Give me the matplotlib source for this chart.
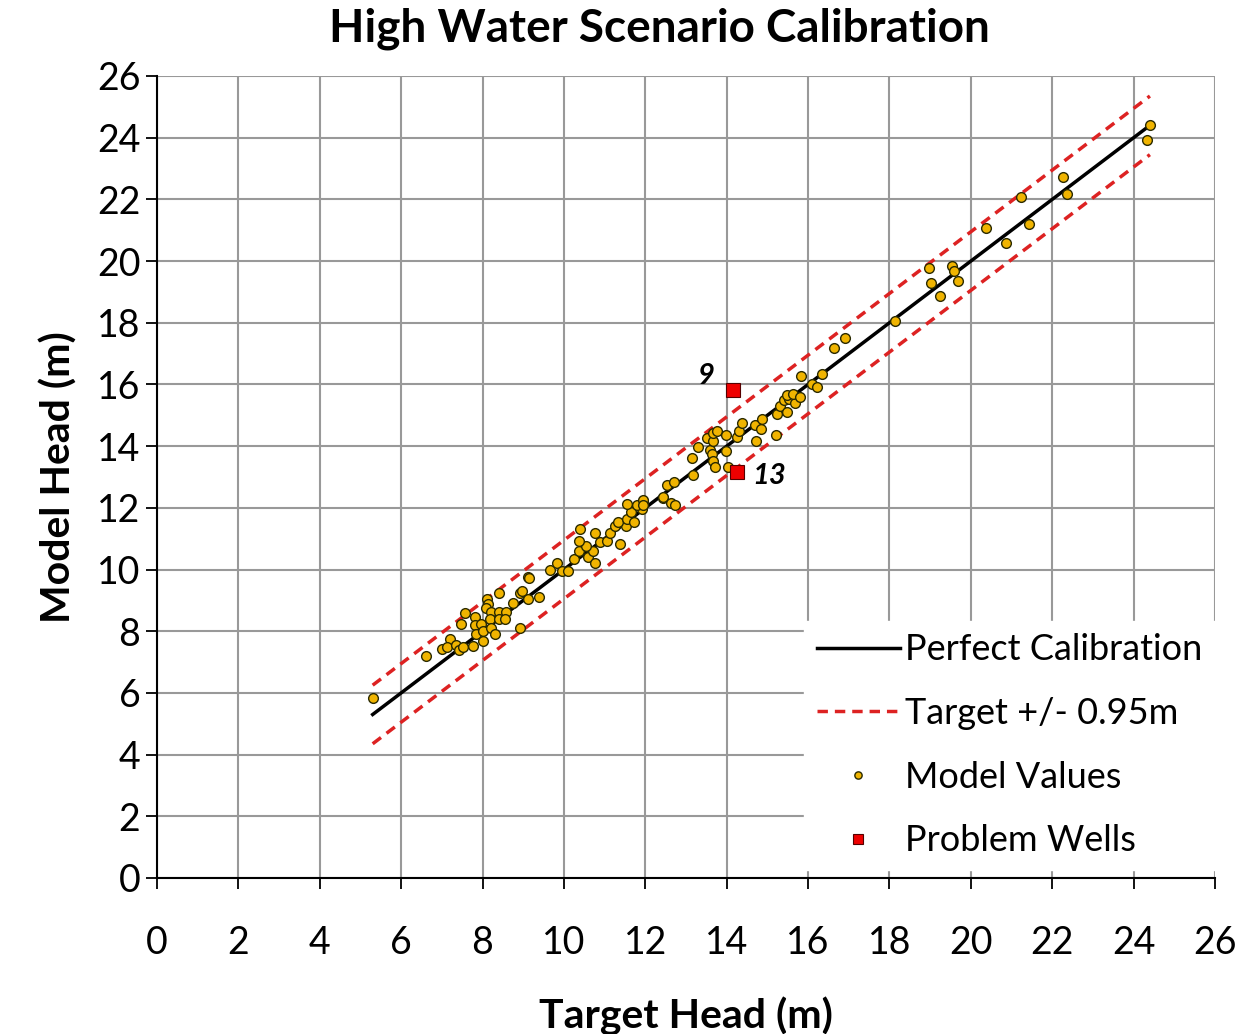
import numpy as np
import matplotlib.pyplot as plt

plt.rcParams['font.family'] = ['Lato', 'DejaVu Sans']

# model values (target head, model head)
target = [5.30, 6.61, 7.00, 7.20, 7.13, 7.35, 7.43, 7.53, 7.76, 7.57, 7.46, 7.81, 7.81, 7.95,
          7.84, 8.00, 8.00, 8.10, 8.14, 8.08, 8.20, 8.41, 8.58, 8.18, 8.41, 8.55, 8.20, 8.31,
          8.92, 8.41, 8.76, 8.92, 9.12, 9.39, 9.12, 8.96, 9.15, 9.65, 9.84, 9.95, 10.11,
          10.25, 10.60, 10.76, 10.36, 10.71, 10.54, 10.36, 10.89, 11.07, 11.38, 10.76, 10.40,
          11.13, 11.26, 11.53, 11.34, 11.54, 11.71, 11.66, 11.91, 11.54, 11.95, 11.80, 12.43,
          11.95, 11.95, 12.43, 12.63, 12.73, 12.53, 12.71, 13.18, 13.14, 13.30, 13.59,
          13.63, 13.67, 13.71, 14.02, 13.98, 13.51, 13.67, 13.66, 13.77, 13.98, 14.25, 14.29,
          14.38, 14.73, 14.70, 14.84, 14.86, 15.21, 15.24, 15.31, 15.47, 15.41, 15.54, 15.68,
          15.47, 15.62, 15.79, 15.83, 16.09, 16.21, 16.33, 16.64, 16.91, 18.13, 18.96, 19.01,
          19.23, 19.53, 19.59, 19.69, 20.36, 20.87, 21.23, 21.44, 22.26, 22.37, 24.32, 24.41]
model = [5.85, 7.20, 7.41, 7.76, 7.50, 7.55, 7.39, 7.48, 7.53, 8.58, 8.22, 8.45, 8.20, 8.23,
         7.91, 8.01, 7.69, 9.06, 8.88, 8.74, 8.63, 8.63, 8.63, 8.38, 8.38, 8.38, 8.09, 7.91,
         8.09, 9.25, 8.91, 9.25, 9.03, 9.12, 9.77, 9.31, 9.71, 10.00, 10.22, 9.96, 9.96,
         10.33, 10.39, 10.22, 10.61, 10.60, 10.76, 10.93, 10.90, 10.92, 10.83, 11.20, 11.30,
         11.17, 11.41, 11.41, 11.55, 11.63, 11.55, 11.87, 11.95, 12.12, 12.23, 12.09, 12.31,
         12.25, 12.10, 12.36, 12.16, 12.09, 12.74, 12.85, 13.06, 13.60, 13.96, 13.89,
         13.74, 13.53, 13.33, 13.33, 13.85, 14.28, 14.17, 14.43, 14.50, 14.36, 14.31, 14.49,
         14.74, 14.17, 14.69, 14.54, 14.87, 14.36, 15.04, 15.30, 15.11, 15.50, 15.52, 15.39,
         15.66, 15.68, 15.60, 16.28, 16.01, 15.93, 16.34, 17.19, 17.52, 18.06, 19.78, 19.30,
         18.87, 19.85, 19.69, 19.36, 21.08, 20.60, 22.09, 21.20, 22.71, 22.16, 23.93, 24.41]

# problem wells
prob_x = [14.15, 14.25]
prob_y = [15.82, 13.17]
prob_lbl = ['9', '13']

line_x = [5.3, 24.4]
tol = 0.95
ticks = list(range(0, 27, 2))

fig = plt.figure(figsize=(12.53, 10.34), dpi=100)
ax = fig.add_axes([0.1253, 0.1509, 0.8444, 0.7756])

ax.grid(True, color='#999999', lw=1.5)
ax.set_axisbelow(True)

ax.plot(line_x, line_x, color='black', lw=2.5, label='Perfect Calibration', zorder=3)
ax.plot(line_x, [v + tol for v in line_x], color='#dd2222', lw=2.5, ls=(0, (3, 2)),
        label='Target +/- 0.95m', zorder=3)
ax.plot(line_x, [v - tol for v in line_x], color='#dd2222', lw=2.5, ls=(0, (3, 2)), zorder=3)
ax.plot(target, model, 'o', ms=7, mfc='#f0b400', mec='#2a2a00', mew=1.0,
        label='Model Values', zorder=4)
ax.plot(prob_x, prob_y, 's', ms=10, mfc='#ee0000', mec='#550000', mew=0.8,
        label='Problem Wells', zorder=5)

ax.text(prob_x[0] - 0.65, prob_y[0] + 0.45, prob_lbl[0], fontsize=21, fontweight='bold',
        style='italic', ha='center', va='center')
ax.text(prob_x[1] + 0.8, prob_y[1] - 0.15, prob_lbl[1], fontsize=21, fontweight='bold',
        style='italic', ha='center', va='center')

ax.set_xlim(0, 26)
ax.set_ylim(0, 26)
ax.set_xticks(ticks)
ax.set_yticks(ticks)
ax.tick_params(labelsize=27, length=8, width=1.3, pad=4)
ax.tick_params(axis='x', pad=26)
for s in ['top', 'right']:
    ax.spines[s].set_visible(False)
for s in ['left', 'bottom']:
    ax.spines[s].set_linewidth(1.5)

fig.text(0.526, 0.972, 'High Water Scenario Calibration', fontsize=33, fontweight='bold',
         ha='center', va='center')
ax.set_xlabel('Target Head (m)', fontsize=29.5, fontweight='bold', labelpad=26)
ax.set_ylabel('Model Head (m)', fontsize=29.5, fontweight='bold', labelpad=14)

leg = ax.legend(loc='lower right', bbox_to_anchor=(1.0, 0.01), fontsize=26, frameon=True,
                fancybox=False, edgecolor='white', framealpha=1, borderaxespad=0.0,
                handlelength=2.3, handletextpad=0.15, labelspacing=0.85, borderpad=0.35,
                markerscale=0.75)

fig.savefig('out.png', dpi=100)
